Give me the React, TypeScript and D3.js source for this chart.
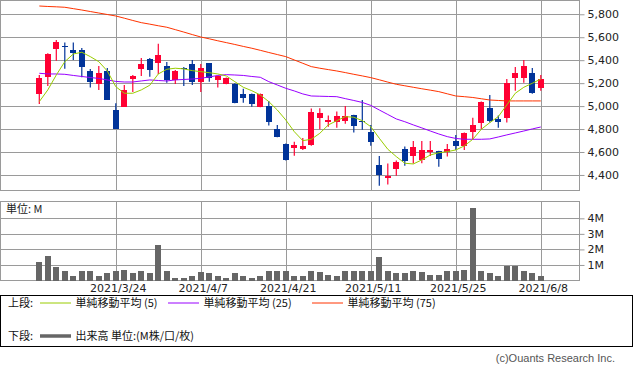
import React, { useRef, useEffect } from 'react'
import * as d3 from 'd3'

// trading days shown (2021/3/11 - 2021/6/8)
const dates = [
  '2021/3/11', '2021/3/12', '2021/3/15', '2021/3/16', '2021/3/17', '2021/3/18', '2021/3/19', '2021/3/22', '2021/3/23', '2021/3/24',
  '2021/3/25', '2021/3/26', '2021/3/29', '2021/3/30', '2021/3/31', '2021/4/1', '2021/4/2', '2021/4/5', '2021/4/6', '2021/4/7',
  '2021/4/8', '2021/4/9', '2021/4/12', '2021/4/13', '2021/4/14', '2021/4/15', '2021/4/16', '2021/4/19', '2021/4/20', '2021/4/21',
  '2021/4/22', '2021/4/23', '2021/4/26', '2021/4/27', '2021/4/28', '2021/4/30', '2021/5/6', '2021/5/7', '2021/5/10', '2021/5/11',
  '2021/5/12', '2021/5/13', '2021/5/14', '2021/5/17', '2021/5/18', '2021/5/19', '2021/5/20', '2021/5/21', '2021/5/24', '2021/5/25',
  '2021/5/26', '2021/5/27', '2021/5/28', '2021/5/31', '2021/6/1', '2021/6/2', '2021/6/3', '2021/6/4', '2021/6/7', '2021/6/8',
]

const open = [
  5106, 5256, 5500, 5527, 5489, 5489, 5306, 5195, 5306, 4966,
  4995, 5236, 5323, 5411, 5376, 5350, 5228, 5332, 5367, 5213,
  5376, 5228, 5195, 5195, 5106, 5106, 4995, 5001, 4801, 4670,
  4638, 4629, 4662, 4899, 4862, 4862, 4873, 4923, 4873, 4775,
  4487, 4377, 4455, 4627, 4568, 4531, 4601, 4609, 4601, 4696,
  4655, 4772, 4856, 4984, 4891, 4899, 5248, 5248, 5289, 5161,
]
const high = [
  5271, 5460, 5576, 5553, 5553, 5506, 5323, 5350, 5332, 5025,
  5184, 5271, 5419, 5419, 5544, 5384, 5315, 5341, 5402, 5367,
  5376, 5265, 5250, 5200, 5152, 5110, 5110, 5045, 4836, 4675,
  4690, 4722, 4978, 4981, 4917, 4952, 5001, 4925, 5053, 4836,
  4566, 4499, 4525, 4647, 4696, 4696, 4696, 4612, 4670, 4748,
  4770, 4899, 5040, 5097, 4917, 5236, 5341, 5402, 5332, 5271,
]
const low = [
  5019, 5175, 5396, 5326, 5402, 5251, 5161, 5141, 5053, 4801,
  4995, 5123, 5263, 5256, 5280, 5204, 5193, 5175, 5184, 5123,
  5213, 5161, 5190, 5025, 5030, 4995, 4990, 4830, 4729, 4525,
  4568, 4618, 4655, 4798, 4821, 4812, 4847, 4769, 4795, 4655,
  4307, 4316, 4394, 4481, 4499, 4502, 4566, 4472, 4560, 4618,
  4618, 4705, 4801, 4856, 4812, 4856, 5134, 5204, 5108, 5134,
]
const close = [
  5245, 5454, 5559, 5518, 5465, 5344, 5213, 5289, 5053, 4801,
  5141, 5263, 5367, 5315, 5445, 5228, 5306, 5323, 5213, 5332,
  5243, 5265, 5243, 5030, 5071, 5019, 5106, 4864, 4734, 4531,
  4662, 4653, 4949, 4940, 4879, 4914, 4914, 4830, 4864, 4690,
  4403, 4394, 4513, 4522, 4644, 4618, 4618, 4542, 4627, 4655,
  4766, 4833, 5036, 4873, 4862, 5202, 5289, 5350, 5117, 5236,
]
// volume in millions
const volume = [
  1.17, 1.6, 0.85, 0.6, 0.26, 0.64, 0.64, 0.32, 0.47, 0.64,
  0.7, 0.47, 0.64, 0.47, 2.3, 0.6, 0.19, 0.13, 0.32, 0.53,
  0.47, 0.26, 0.19, 0.47, 0.26, 0.19, 0.26, 0.6, 0.64, 0.64,
  0.32, 0.32, 0.6, 0.53, 0.38, 0.32, 0.6, 0.6, 0.6, 0.6,
  1.53, 0.6, 0.47, 0.47, 0.6, 0.53, 0.38, 0.38, 0.6, 0.64,
  0.7, 4.69, 0.64, 0.47, 0.26, 0.96, 0.92, 0.64, 0.47, 0.32,
]
const ma5 = [
  5039, 5141, 5271, 5387, 5454, 5469, 5431, 5387, 5306, 5169,
  5112, 5112, 5141, 5182, 5280, 5321, 5330, 5324, 5309, 5300,
  5291, 5280, 5263, 5213, 5164, 5134, 5097, 5039, 4966, 4879,
  4777, 4699, 4711, 4763, 4836, 4873, 4908, 4903, 4873, 4821,
  4720, 4624, 4560, 4502, 4496, 4531, 4574, 4594, 4603, 4618,
  4653, 4711, 4798, 4856, 4908, 5010, 5112, 5164, 5199, 5236,
]
const ma25 = [
  5286, 5280, 5280, 5277, 5267, 5258, 5249, 5241, 5228, 5215,
  5210, 5210, 5219, 5228, 5223, 5219, 5228, 5232, 5236, 5242,
  5254, 5267, 5274, 5271, 5267, 5258, 5251, 5213, 5184, 5155,
  5132, 5106, 5088, 5086, 5084, 5082, 5065, 5049, 5032, 5006,
  4966, 4927, 4888, 4864, 4836, 4810, 4783, 4757, 4734, 4718,
  4711, 4711, 4711, 4714, 4731, 4749, 4766, 4783, 4801, 4818,
]
const ma75 = [
  5872, 5868, 5865, 5861, 5849, 5837, 5824, 5811, 5798, 5785,
  5766, 5746, 5727, 5714, 5700, 5687, 5666, 5645, 5623, 5602,
  5586, 5569, 5553, 5537, 5520, 5504, 5486, 5467, 5449, 5431,
  5402, 5373, 5344, 5330, 5318, 5306, 5292, 5277, 5263, 5248,
  5229, 5209, 5190, 5177, 5164, 5151, 5139, 5126, 5107, 5088,
  5082, 5075, 5064, 5053, 5049, 5045, 5045, 5045, 5045, 5045,
]

const xTickLabels = ['2021/3/24', '2021/4/7', '2021/4/21', '2021/5/11', '2021/5/25', '2021/6/8']
const priceTicks = [4400, 4600, 4800, 5000, 5200, 5400, 5600, 5800]
const volumeTicks = [1, 2, 3, 4]

const UP = '#ff0033'
const DOWN = '#003399'
const GRID = '#9a9a9a'
const LABEL_FONT = "'DejaVu Sans', 'Noto Sans CJK JP', sans-serif"
const JP_FONT = "'Noto Sans CJK JP', sans-serif"

const App = () => {
  const chartRef = useRef<SVGSVGElement>(null)

  function drawChart() {
    const svg = d3.select(chartRef.current)
    svg.selectAll('*').remove()

    const left = 0.5
    const right = 579.5
    const priceTop = 0.5
    const priceBottom = 190.5
    const volTop = 201.5
    const volBottom = 280.5

    const x = d3.scaleBand<string>()
      .domain(dates)
      .range([35.05, 545.05])
    const cx = (d: string) => (x(d) as number) + x.bandwidth() / 2

    const y = d3.scaleLinear()
      .domain([4269, 5920])
      .range([190, 0.5])

    const yv = d3.scaleLinear()
      .domain([0, 5.07])
      .range([280.5, 201.7])

    const crisp = (v: number) => Math.round(v) + 0.5

    // grids
    const grid = svg.append('g')
      .attr('stroke', GRID)
      .attr('stroke-width', 1)
      .attr('fill', 'none')
    grid.selectAll('.hp')
      .data(priceTicks)
      .enter()
      .append('line')
      .attr('x1', left).attr('x2', right)
      .attr('y1', d => crisp(y(d))).attr('y2', d => crisp(y(d)))
    grid.selectAll('.hv')
      .data(volumeTicks)
      .enter()
      .append('line')
      .attr('x1', left).attr('x2', right)
      .attr('y1', d => crisp(yv(d))).attr('y2', d => crisp(yv(d)))
    grid.selectAll('.vp')
      .data(xTickLabels)
      .enter()
      .append('line')
      .attr('x1', d => crisp(cx(d))).attr('x2', d => crisp(cx(d)))
      .attr('y1', priceTop).attr('y2', priceBottom)
    grid.selectAll('.vv')
      .data(xTickLabels)
      .enter()
      .append('line')
      .attr('x1', d => crisp(cx(d))).attr('x2', d => crisp(cx(d)))
      .attr('y1', volTop).attr('y2', volBottom)
    grid.append('rect')
      .attr('x', left).attr('y', priceTop)
      .attr('width', right - left).attr('height', priceBottom - priceTop)
    grid.append('rect')
      .attr('x', left).attr('y', volTop)
      .attr('width', right - left).attr('height', volBottom - volTop)

    // right axes
    const priceAxis = svg.append('g')
      .attr('transform', `translate(${right}, 0)`)
      .call(d3.axisRight(y)
        .tickValues(priceTicks)
        .tickSize(5)
        .tickFormat(d3.format(','))
      )
    const volAxis = svg.append('g')
      .attr('transform', `translate(${right}, 0)`)
      .call(d3.axisRight(yv)
        .tickValues(volumeTicks)
        .tickSize(5)
        .tickFormat(d => `${d}M`)
      )
    ;[priceAxis, volAxis].forEach(ax => {
      ax.select('.domain').remove()
      ax.selectAll('.tick line').attr('stroke', GRID)
      ax.selectAll('.tick text')
        .attr('fill', '#222')
        .attr('font-size', 11)
        .attr('font-family', LABEL_FONT)
    })

    // volume bars
    svg.append('g')
      .selectAll('rect')
      .data(dates)
      .enter()
      .append('rect')
      .attr('x', d => cx(d) - 3)
      .attr('width', 6)
      .attr('y', (d, i) => yv(volume[i]))
      .attr('height', (d, i) => yv(0) - yv(volume[i]))
      .attr('fill', '#666666')
      .attr('shape-rendering', 'crispEdges')

    svg.append('text')
      .attr('x', 6)
      .attr('y', 213)
      .attr('font-size', 11)
      .attr('font-family', JP_FONT)
      .attr('fill', '#222')
      .text('単位: M')

    // candles
    const candles = svg.append('g')
      .selectAll('g')
      .data(dates)
      .enter()
      .append('g')
    candles.append('line')
      .attr('x1', d => cx(d)).attr('x2', d => cx(d))
      .attr('y1', (d, i) => y(high[i]))
      .attr('y2', (d, i) => y(low[i]))
      .attr('stroke', (d, i) => close[i] >= open[i] ? UP : DOWN)
      .attr('stroke-width', 1.2)
    candles.append('rect')
      .attr('x', d => cx(d) - 3)
      .attr('width', 6)
      .attr('y', (d, i) => y(Math.max(open[i], close[i])))
      .attr('height', (d, i) => Math.max(1, Math.abs(y(open[i]) - y(close[i]))))
      .attr('fill', (d, i) => close[i] >= open[i] ? UP : DOWN)
      .attr('shape-rendering', 'crispEdges')

    // moving averages
    const line = d3.line<number>()
      .x((d, i) => cx(dates[i]))
      .y(d => y(d))
    const maSeries = [
      { values: ma75, color: '#ff3300' },
      { values: ma25, color: '#9900ff' },
      { values: ma5, color: '#99cc00' },
    ]
    maSeries.forEach(s => {
      svg.append('path')
        .datum(s.values)
        .attr('fill', 'none')
        .attr('stroke', s.color)
        .attr('stroke-width', 1)
        .attr('d', line)
    })

    // date labels
    svg.append('g')
      .selectAll('text')
      .data(xTickLabels)
      .enter()
      .append('text')
      .attr('x', d => cx(d) + 2.5)
      .attr('y', 292)
      .attr('text-anchor', 'middle')
      .attr('font-size', 11)
      .attr('font-family', LABEL_FONT)
      .attr('fill', '#222')
      .text(d => d)

    // legend
    const legend = svg.append('g')
    legend.append('rect')
      .attr('x', 0.5).attr('y', 295.5)
      .attr('width', 632).attr('height', 51)
      .attr('fill', 'none')
      .attr('stroke', '#000')
    const legendRows = [
      { label: '上段:', y: 307, items: [
        { x: 40, color: '#99cc00', width: 1, text: '単純移動平均 (5)' },
        { x: 168, color: '#9900ff', width: 1, text: '単純移動平均 (25)' },
        { x: 312, color: '#ff3300', width: 1, text: '単純移動平均 (75)' },
      ] },
      { label: '下段:', y: 340, items: [
        { x: 40, color: '#666666', width: 3.5, text: '出来高 単位:(M株/口/枚)' },
      ] },
    ]
    legendRows.forEach(row => {
      legend.append('text')
        .attr('x', 8).attr('y', row.y)
        .attr('font-size', 11)
        .attr('font-family', JP_FONT)
        .attr('fill', '#111')
        .text(row.label)
      row.items.forEach(it => {
        legend.append('line')
          .attr('x1', it.x).attr('x2', it.x + 31)
          .attr('y1', row.y - 4).attr('y2', row.y - 4)
          .attr('stroke', it.color)
          .attr('stroke-width', it.width)
        legend.append('text')
          .attr('x', it.x + 35.5).attr('y', row.y)
          .attr('font-size', 11)
          .attr('font-family', JP_FONT)
          .attr('fill', '#111')
          .text(it.text)
      })
    })

    svg.append('text')
      .attr('x', 615)
      .attr('y', 362)
      .attr('text-anchor', 'end')
      .attr('font-size', 11)
      .attr('font-family', "'Liberation Sans', sans-serif")
      .attr('fill', '#555')
      .text('(c)Ouants Research Inc.')
  }

  useEffect(() => {
    drawChart()
  }, [])

  return (
    <svg
      ref={chartRef}
      width={633}
      height={372}
      style={{ position: 'absolute', left: 0, top: 0, background: '#fff' }}
    />
  )
}

export default App
